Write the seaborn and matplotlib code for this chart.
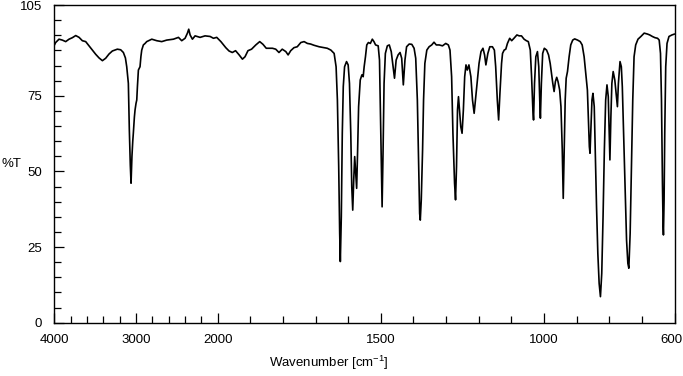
import numpy as np
import pandas as pd
import matplotlib
matplotlib.use("Agg")
import matplotlib.pyplot as plt
import seaborn as sns
from matplotlib.ticker import FixedLocator
from matplotlib.transforms import ScaledTranslation

# ==========================================
# style
# ==========================================
sns.set_theme(style="white")
plt.rcParams['font.family'] = ['Liberation Sans', 'DejaVu Sans']
plt.rcParams['mathtext.default'] = 'regular'

# ==========================================
# spectrum (cm-1, %T)
# ==========================================
wavenumber = [
    4000, 3985, 3944, 3903, 3862, 3821, 3780, 3739, 3698, 3658, 3617, 3576,
    3535, 3494, 3453, 3412, 3372, 3331, 3290, 3229, 3188, 3155, 3130, 3114,
    3100, 3094, 3082, 3070, 3061, 3050, 3040, 3033, 3020, 3012, 3000, 2991,
    2983, 2971, 2951, 2940, 2930, 2910, 2889, 2869, 2807, 2746, 2685, 2624,
    2542, 2480, 2440, 2399, 2370, 2354, 2337, 2309, 2276, 2215, 2154, 2092,
    2051, 2011,
    1990, 1975, 1965, 1955, 1945, 1934, 1924, 1916, 1907, 1896, 1883, 1871,
    1861, 1851, 1832, 1822, 1812, 1802, 1791, 1784, 1776, 1766, 1756, 1745,
    1735, 1725, 1715, 1705, 1689, 1674, 1664, 1653, 1643, 1637, 1633, 1629,
    1626, 1624, 1621, 1618, 1615, 1611, 1605, 1600, 1596, 1592, 1589, 1586,
    1583, 1580, 1577, 1574, 1571, 1568, 1563, 1558, 1554, 1551, 1547, 1543,
    1538, 1532, 1526, 1521, 1516, 1508, 1504, 1501, 1498, 1496, 1493, 1490,
    1486, 1480, 1474, 1468, 1463, 1458, 1453, 1447, 1441, 1436, 1431, 1426,
    1421, 1413, 1405, 1398, 1393, 1388, 1384, 1381, 1379, 1376, 1372, 1369,
    1365, 1359, 1352, 1344, 1337, 1330, 1321, 1311, 1301, 1293, 1288, 1283,
    1279, 1274, 1271, 1268, 1265, 1262, 1259, 1255, 1251, 1247, 1243, 1239,
    1235, 1230, 1224, 1219, 1214, 1209, 1204, 1199, 1193, 1187, 1182, 1178,
    1172, 1166, 1158, 1152, 1148, 1143, 1139, 1135, 1130, 1127, 1122, 1117,
    1112, 1105, 1099, 1092, 1083, 1076, 1069, 1061, 1054, 1048, 1042, 1038,
    1034, 1032, 1029, 1025, 1020, 1016, 1013, 1011, 1008, 1004, 999, 992,
    986, 981, 977, 973, 969, 965, 961, 957, 952, 948, 944, 941,
    938, 935, 932, 928, 923, 918, 912, 906, 897, 889, 883, 877,
    871, 867, 864, 861, 859, 856, 853, 850, 846, 843, 839, 835,
    831, 827, 823, 819, 815, 811, 807, 803, 800, 798, 795, 792,
    788, 783, 778, 775, 772, 767, 763, 760, 756, 751, 747, 743,
    740, 736, 732, 728, 724, 719, 712, 703, 693, 683, 676, 668,
    660, 652, 647, 643, 640, 637, 635, 634, 632, 630, 627, 623,
    617, 608, 600,
]
transmittance = [
    91.8, 92.6, 93.7, 93.4, 92.9, 93.7, 94.2, 94.9, 94.3, 93.2, 92.9, 91.5,
    90.1, 88.7, 87.5, 86.6, 87.4, 88.8, 89.8, 90.4, 90.2, 89.3, 87.5, 84.6,
    80.5, 79.1, 63.7, 52.0, 46.1, 55.0, 60.0, 62.6, 68.0, 70.3, 72.5, 73.6,
    78.0, 83.5, 84.6, 88.0, 90.1, 91.8, 92.3, 92.9, 93.7, 93.2, 92.9, 93.4,
    93.7, 94.3, 93.2, 94.0, 95.7, 97.0, 95.1, 93.7, 94.8, 94.3, 94.8, 94.6,
    94.0, 94.3,
    92.9, 90.9, 89.8, 89.3, 89.9, 88.5, 87.1, 87.9, 89.9, 90.4, 91.8, 92.9,
    92.0, 90.7, 90.7, 90.4, 89.3, 90.4, 89.6, 88.5, 89.9, 90.9, 91.2, 92.6,
    92.9, 92.3, 92.1, 91.7, 91.2, 90.9, 90.7, 90.1, 89.0, 84.6, 73.6, 51.6,
    29.5, 20.2, 35.0, 62.6, 78.0, 84.6, 86.3, 85.2, 79.1, 62.6, 45.0, 37.2,
    47.1, 54.9, 49.4, 44.4, 57.1, 71.4, 80.2, 81.9, 81.3, 84.6, 87.9, 91.8,
    92.6, 92.3, 93.7, 92.9, 91.8, 91.5, 86.8, 68.1, 48.3, 38.3, 57.1, 79.1,
    89.0, 91.5, 91.8, 89.6, 85.2, 80.8, 86.8, 88.5, 89.3, 87.4, 78.6, 86.8,
    91.2, 92.1, 92.0, 90.7, 87.4, 73.6, 51.6, 36.1, 33.9, 40.6, 57.1, 73.6,
    85.7, 90.1, 91.2, 91.8, 92.7, 91.8, 91.8, 91.5, 92.3, 91.8, 90.1, 81.3,
    62.6, 46.1, 40.6, 51.6, 70.3, 74.7, 70.3, 64.8, 62.6, 70.3, 81.3, 85.2,
    83.5, 85.2, 81.3, 73.6, 69.2, 74.7, 80.2, 85.7, 89.6, 90.7, 88.5, 85.2,
    89.0, 91.2, 91.2, 90.1, 84.6, 73.6, 67.0, 75.8, 85.7, 89.0, 90.1, 90.4,
    92.3, 94.0, 93.2, 94.0, 95.1, 94.8, 94.8, 93.7, 93.2, 92.9, 90.1, 81.3,
    70.3, 67.0, 79.1, 87.9, 89.6, 84.6, 73.6, 67.6, 79.1, 89.0, 90.7, 90.1,
    88.5, 85.7, 82.4, 79.1, 76.4, 79.7, 81.1, 79.7, 76.9, 71.4, 57.1, 41.1,
    57.1, 73.6, 80.8, 83.0, 87.9, 91.8, 93.4, 93.8, 93.4, 92.9, 91.8, 87.9,
    81.3, 76.9, 67.0, 58.2, 56.0, 64.8, 73.6, 75.8, 71.4, 57.1, 38.3, 22.9,
    13.0, 8.6, 16.3, 35.0, 57.1, 73.6, 78.6, 74.7, 62.6, 53.8, 68.1, 79.1,
    83.0, 80.2, 74.7, 71.4, 79.1, 86.3, 84.6, 78.0, 62.6, 42.8, 27.3, 19.6,
    18.0, 29.5, 51.6, 73.6, 87.9, 91.8, 93.7, 94.6, 95.7, 95.4, 95.1, 94.6,
    94.2, 94.0, 93.4, 89.0, 73.6, 45.9, 31.7, 29.0, 40.5, 62.6, 84.6, 92.3,
    94.6, 95.1, 95.4,
]

# tick positions / labels
x_major = [4000, 3000, 2000, 1500, 1000, 600]
x_minor = [3800, 3600, 3400, 3200, 2800, 2600, 2400, 2200,
           1900, 1800, 1700, 1600, 1400, 1300, 1200, 1100, 900, 800, 700]
y_major = [0, 25, 50, 75, 105]
y_minor = list(range(5, 105, 5))

df = pd.DataFrame({'Wavenumber': wavenumber, 'T': transmittance})


# 4000-2000 is drawn at a quarter of the scale of 2000-600
def _fwd(x):
    x = np.asarray(x, dtype=float)
    return np.where(x > 2000, 2000 + (x - 2000) / 4.0, x)


def _inv(u):
    u = np.asarray(u, dtype=float)
    return np.where(u > 2000, 2000 + (u - 2000) * 4.0, u)


fig = plt.figure(figsize=(6.83, 3.76), dpi=100)
ax = fig.add_axes([0.0797, 0.1418, 0.9079, 0.8449])

sns.lineplot(data=df, x='Wavenumber', y='T', sort=False, estimator=None,
             color='black', linewidth=1.2, ax=ax)

ax.set_xscale('function', functions=(_fwd, _inv))
ax.set_xlim(4000, 600)
ax.set_ylim(0, 105)

ax.xaxis.set_major_locator(FixedLocator(x_major))
ax.xaxis.set_minor_locator(FixedLocator(x_minor))
ax.set_xticklabels([str(v) for v in x_major])
ax.yaxis.set_major_locator(FixedLocator(y_major))
ax.yaxis.set_minor_locator(FixedLocator(y_minor))
ax.set_yticklabels([str(v) for v in y_major])

ax.tick_params(axis='both', which='both', direction='in', colors='black',
               labelsize=9.5, width=0.9, bottom=True, left=True, top=False, right=False)
ax.tick_params(which='major', length=7.5)
ax.tick_params(which='minor', length=4.7)
ax.tick_params(axis='x', which='major', pad=8)
ax.tick_params(axis='y', which='major', pad=9)

# the last label ("600") sits a little inside the figure edge
last = ax.get_xticklabels()[-1]
last.set_transform(last.get_transform() + ScaledTranslation(-0.035, 0, fig.dpi_scale_trans))

for s in ax.spines.values():
    s.set_color('black')
    s.set_linewidth(1.0)

ax.set_xlabel('Wavenumber [cm$^{-1}$]', fontsize=9.5, color='black', va='center')
ax.xaxis.set_label_coords(0.442, -0.126)
ax.set_ylabel('%T', fontsize=9.5, color='black', rotation=0, ha='center', va='center')
ax.yaxis.set_label_coords(-0.07, 0.5)

fig.savefig('out.png', dpi=100)
plt.close(fig)
